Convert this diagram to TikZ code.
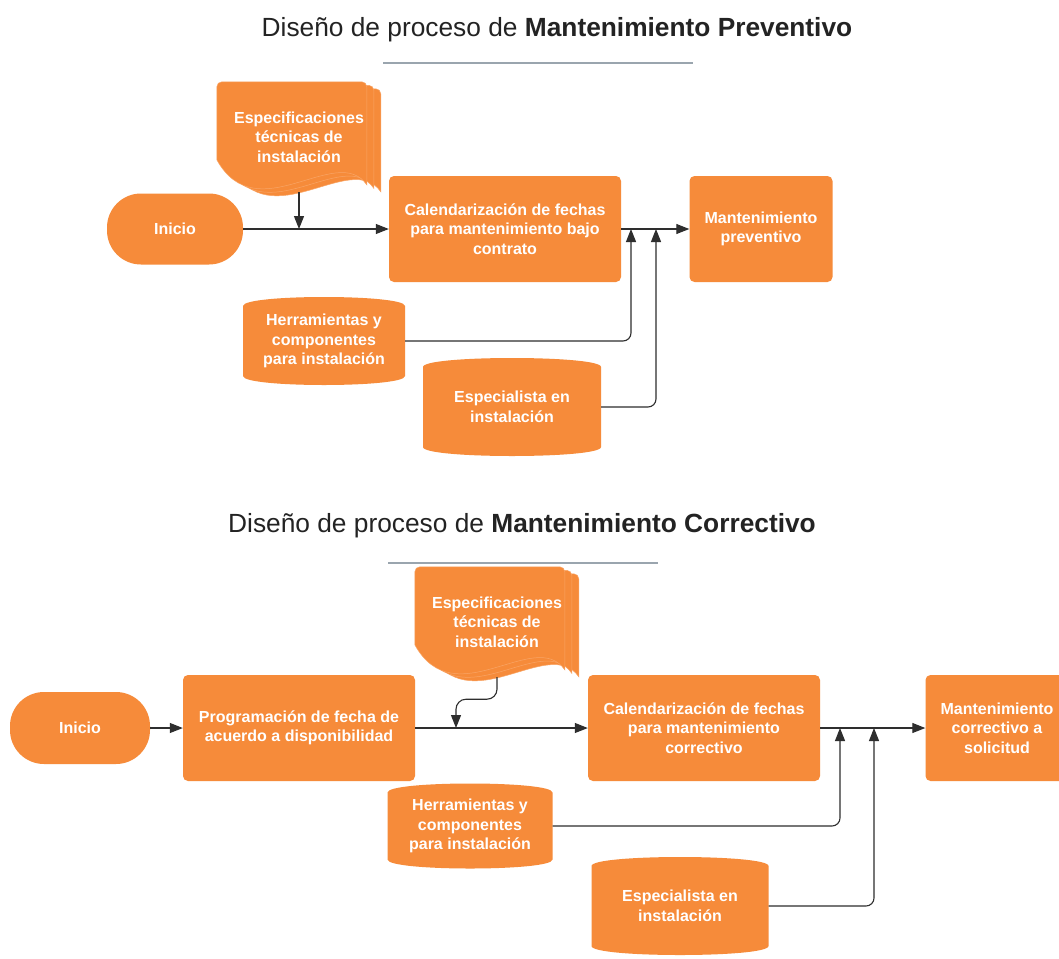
\documentclass[tikz,border=0pt]{standalone}
\usepackage{fontspec}
\setmainfont{Liberation Sans}
\usepackage{tikz}
\usetikzlibrary{calc,arrows.meta,positioning,backgrounds}
\definecolor{mp-orange}{HTML}{F68B3A}
\definecolor{mp-edge}{HTML}{F9A566}
\definecolor{mp-dark}{HTML}{2E2E2E}
\definecolor{mp-rule}{HTML}{9AA5AE}
\definecolor{mp-title}{HTML}{232323}

\begin{document}
\begin{tikzpicture}[x=1pt, y=-1pt,
  lbl/.style={text=white, align=center, font=\fontsize{16}{19.5}\selectfont\bfseries},
  proc/.style={lbl, fill=mp-orange, rounded corners=5pt, minimum width=232pt, minimum height=106pt},
  term/.style={lbl, fill=mp-orange, rounded corners=34pt, minimum height=71pt},
  cyl/.style={lbl, path picture={\def\pb{path picture bounding box}
    \fill[mp-orange] ([yshift=-9pt]\pb.north west) .. controls ([yshift=3pt]\pb.north west) and ([yshift=3pt]\pb.north east) .. ([yshift=-9pt]\pb.north east)
      -- ([yshift=9pt]\pb.south east) .. controls ([yshift=-3pt]\pb.south east) and ([yshift=-3pt]\pb.south west) .. ([yshift=9pt]\pb.south west) -- cycle;}},
  docs/.style={lbl, minimum width=164pt, minimum height=110pt},
  pics/pages/.style={code={
    \foreach \k in {2,1,0}
      \fill[mp-orange, draw=mp-edge, line width=0.5pt, shift={(7*\k,3.5*\k)}] (0,78) [rounded corners=5pt]-- (0,0) -- (150,0) [sharp corners]-- (150,103) .. controls (120,60) and (40,150) .. cycle;}},
  conn/.style={mp-dark, line width=1.1pt, -{Triangle[length=13pt,width=10pt]}},
  ttl/.style={text=mp-title, font=\fontsize{26.3}{30}\selectfont},
  rule/.style={mp-rule, line width=1.5pt}]
\useasboundingbox (0,0) rectangle (1059,958);

\node[ttl] (t1) at (557,30) {Diseño de proceso de \textbf{Mantenimiento Preventivo}};
\draw[rule] (383,63) -- (693,63);
\node[docs] (spec1) at (299,137) {Especificaciones\\técnicas de\\instalación};
\node[term, minimum width=136pt] (ini1) at (175,229) {Inicio};
\node[proc] (cal1) at (505,229) {Calendarización de fechas\\para mantenimiento bajo\\contrato};
\node[proc, minimum width=143pt] (mp1) at (761,229) {Mantenimiento\\preventivo};
\node[cyl, minimum width=162pt, minimum height=88pt] (herr1) at (324,341) {Herramientas y\\componentes\\para instalación};
\node[cyl, minimum width=178pt, minimum height=98pt] (esp1) at (512,407) {Especialista en\\instalación};
\coordinate (a1) at (spec1.south |- cal1.west);
\coordinate (j1) at (631,229);
\coordinate (j2) at (656,229);
\draw[conn] (ini1) -- (cal1);
\draw[conn] (spec1.south) -- (a1);
\draw[conn] (cal1) -- (mp1);
\draw[conn, rounded corners=8pt] (herr1.east) -| (j1);
\draw[conn, rounded corners=8pt] (esp1.east) -| (j2);

\node[ttl] (t2) at (522,526) {Diseño de proceso de \textbf{Mantenimiento Correctivo}};
\draw[rule] (388,563) -- (658,563);
\node[docs] (spec2) at (497,622) {Especificaciones\\técnicas de\\instalación};
\node[term, minimum width=140pt, minimum height=72pt] (ini2) at (80,728) {Inicio};
\node[proc] (prog) at (299,728) {Programación de fecha de\\acuerdo a disponibilidad};
\node[proc] (cal2) at (704,728) {Calendarización de fechas\\para mantenimiento\\correctivo};
\node[proc, minimum width=143pt] (mc) at (997,728) {Mantenimiento\\correctivo a\\solicitud};
\node[cyl, minimum width=165pt, minimum height=85pt] (herr2) at (470,826) {Herramientas y\\componentes\\para instalación};
\node[cyl, minimum width=177pt, minimum height=98pt] (esp2) at (680,906) {Especialista en\\instalación};
\coordinate (a2) at (456,728);
\coordinate (j3) at (840,728);
\coordinate (j4) at (874,728);
\draw[conn] (ini2) -- (prog);
\draw[conn] (prog) -- (cal2);
\draw[conn, rounded corners=10pt] (spec2.south) -- ++(0,22) -| (a2);
\draw[conn] (cal2) -- (mc);
\draw[conn, rounded corners=8pt] (herr2.east) -| (j3);
\draw[conn, rounded corners=8pt] (esp2.east) -| (j4);

\begin{scope}[on background layer]
\fill[white] (0,0) rectangle (1059,958);
\pic at (spec1.north west) {pages};
\pic at (spec2.north west) {pages};
\end{scope}
\end{tikzpicture}
\end{document}
